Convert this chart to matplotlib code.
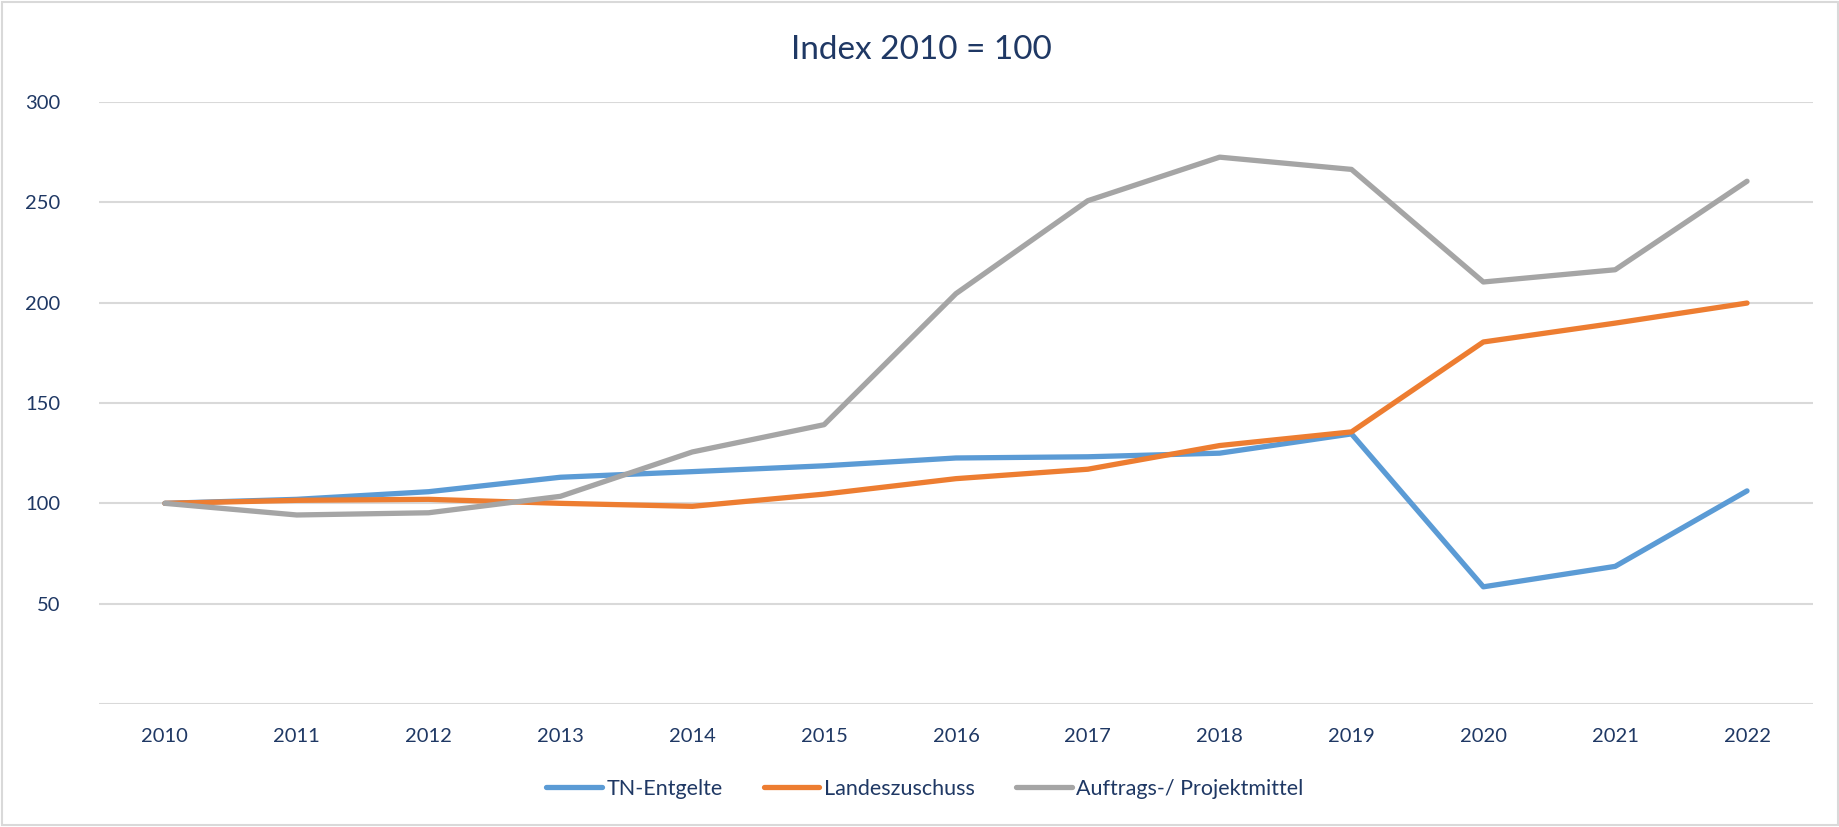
import matplotlib
matplotlib.use("Agg")
import matplotlib.pyplot as plt
from matplotlib.patches import Rectangle

years = [2010, 2011, 2012, 2013, 2014, 2015, 2016, 2017, 2018, 2019, 2020, 2021, 2022]
tn_entgelte = [100, 102, 105.8, 113, 115.8, 118.7, 122.6, 123.2, 125, 134.6, 58.4, 68.6, 106.2]
landeszuschuss = [100, 101.5, 102, 100, 98.5, 104.6, 112.3, 117, 128.8, 135.6, 180.4, 189.8, 199.8]
projektmittel = [100, 94.2, 95.3, 103.5, 125.6, 139.2, 204.5, 250.8, 272.5, 266.4, 210.3, 216.4, 260.5]

series_names = ['TN-Entgelte', 'Landeszuschuss', 'Auftrags-/ Projektmittel']
colors = ['#5B9BD5', '#ED7D31', '#A5A5A5']
text_color = '#1F3864'

plt.rcParams['font.family'] = ['Lato', 'DejaVu Sans']

fig = plt.figure(figsize=(18.4, 8.27), dpi=100)
ax = fig.add_axes([0.0538, 0.1487, 0.9315, 0.728])

for vals, name, c in zip([tn_entgelte, landeszuschuss, projektmittel], series_names, colors):
    ax.plot(years, vals, color=c, lw=3.8, label=name, solid_capstyle='round', zorder=3)

ax.set_xlim(2009.5, 2022.5)
ax.set_ylim(0, 300)
yt = [0, 50, 100, 150, 200, 250, 300]
ax.set_yticks(yt)
ax.set_yticklabels(['' if v == 0 else str(v) for v in yt])
ax.set_xticks(years)
ax.set_xticklabels([str(y) for y in years])
ax.grid(axis='y', color='#D9D9D9', lw=1.5, zorder=0)
for s in ax.spines.values():
    s.set_visible(False)
ax.tick_params(length=0, labelsize=14.5, labelcolor=text_color)
ax.tick_params(axis='x', pad=17)
ax.tick_params(axis='y', pad=28)

# title
fig.text(0.5008, 1 - 59.3 / 827, 'Index 2010 = 100', ha='center', va='baseline',
         fontsize=24, color=text_color)

leg = fig.legend(loc='center', bbox_to_anchor=(0.5025, 0.046), ncol=3, frameon=False,
                 fontsize=15.5, handlelength=2.6, columnspacing=1.9, handletextpad=0.2)
for t in leg.get_texts():
    t.set_color(text_color)

fig.patches.append(Rectangle((0.001, 0.002), 0.998, 0.996, transform=fig.transFigure,
                             fill=False, edgecolor='#D9D9D9', lw=1.5))

fig.savefig('out.png', dpi=100)
